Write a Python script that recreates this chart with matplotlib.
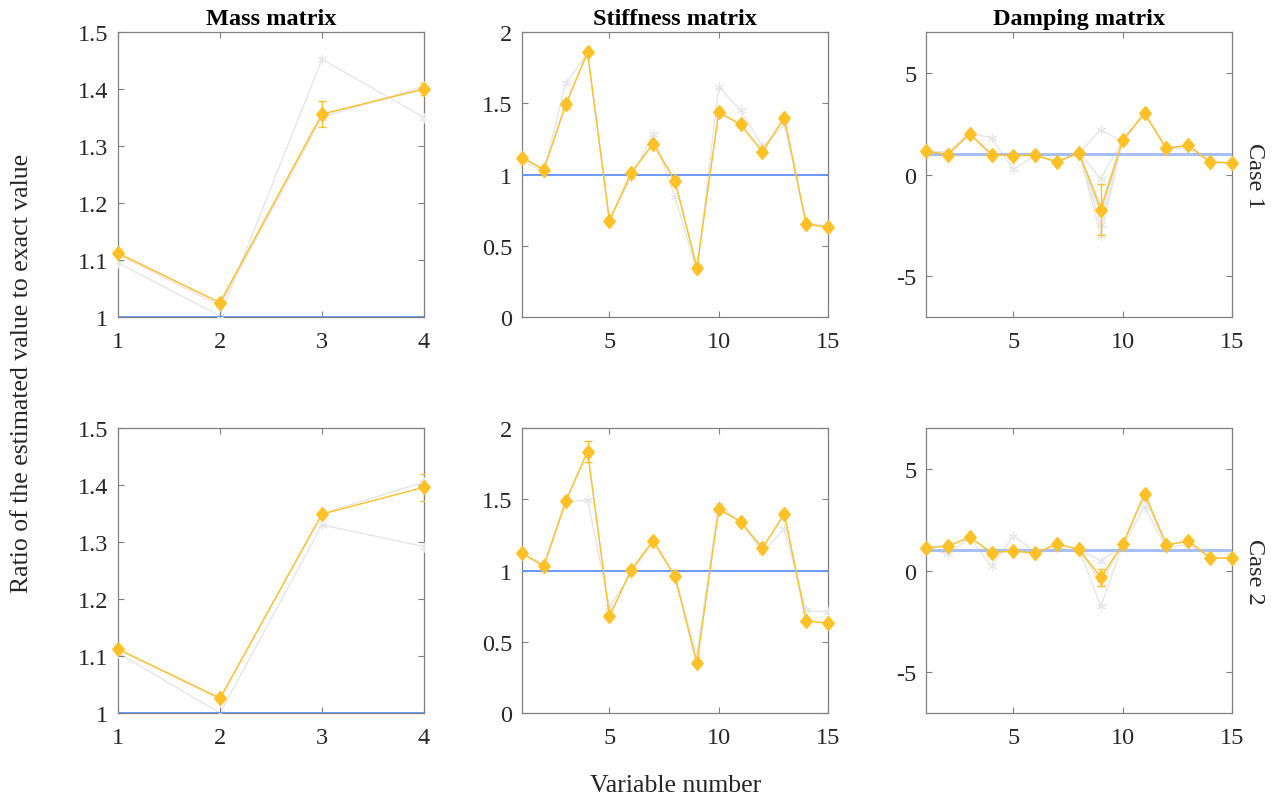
import matplotlib
matplotlib.use("Agg")
import matplotlib.pyplot as plt
import numpy as np

plt.rcParams['font.family'] = ['Liberation Serif', 'DejaVu Serif']
plt.rcParams['mathtext.fontset'] = 'stix'

# ---------------- data ----------------
mass_x = [1, 2, 3, 4]
var_x = list(range(1, 16))

mass1_mean = [1.112, 1.025, 1.356, 1.400]
mass1_err = [0.004, 0.004, 0.023, 0.011]
mass1_trials = [
    [1.095, 1.002, 1.452, 1.350],
    [1.110, 1.020, 1.350, 1.405],
    [1.112, 1.025, 1.355, 1.400],
]
mass2_mean = [1.112, 1.026, 1.349, 1.396]
mass2_err = [0.004, 0.004, 0.004, 0.024]
mass2_trials = [
    [1.105, 1.000, 1.330, 1.292],
    [1.112, 1.024, 1.350, 1.405],
]

stiff1_mean = [1.118, 1.035, 1.493, 1.857, 0.676, 1.012, 1.216, 0.953, 0.343, 1.439, 1.352, 1.160, 1.399, 0.653, 0.629]
stiff1_err = [0.01, 0.01, 0.03, 0.01, 0.01, 0.01, 0.015, 0.03, 0.01, 0.03, 0.02, 0.01, 0.01, 0.01, 0.01]
stiff1_trials = [
    [1.10, 1.02, 1.639, 1.85, 0.68, 0.98, 1.282, 0.84, 0.32, 1.615, 1.451, 1.20, 1.35, 0.66, 0.64],
    [1.12, 1.04, 1.48, 1.86, 0.675, 1.02, 1.21, 0.97, 0.35, 1.43, 1.35, 1.16, 1.40, 0.65, 0.63],
]
stiff2_mean = [1.121, 1.034, 1.485, 1.834, 0.679, 1.006, 1.209, 0.959, 0.348, 1.432, 1.343, 1.156, 1.396, 0.648, 0.630]
stiff2_err = [0.01, 0.01, 0.01, 0.075, 0.01, 0.01, 0.01, 0.01, 0.01, 0.01, 0.01, 0.01, 0.02, 0.01, 0.01]
stiff2_trials = [
    [1.12, 1.02, 1.48, 1.495, 0.746, 0.98, 1.20, 0.95, 0.41, 1.46, 1.34, 1.13, 1.29, 0.72, 0.707],
    [1.12, 1.03, 1.49, 1.84, 0.68, 1.00, 1.21, 0.96, 0.35, 1.43, 1.34, 1.16, 1.40, 0.65, 0.63],
]

damp1_mean = [1.15, 0.98, 2.0, 0.98, 0.93, 0.95, 0.62, 1.07, -1.72, 1.69, 3.0, 1.28, 1.44, 0.61, 0.57]
damp1_err = [0.05, 0.05, 0.05, 0.15, 0.1, 0.05, 0.05, 0.05, 1.25, 0.05, 0.05, 0.05, 0.05, 0.05, 0.05]
damp1_trials = [
    [1.15, 1.10, 2.05, 1.80, 0.25, 0.95, 0.65, 1.05, 2.2, 1.60, 3.0, 1.25, 1.30, 0.60, 0.57],
    [1.15, 0.98, 2.00, 0.95, 0.95, 0.95, 0.60, 1.07, -0.2, 1.69, 3.0, 1.28, 1.44, 0.61, 0.57],
    [1.15, 0.98, 2.00, 0.98, 0.93, 0.95, 0.62, 1.07, -3.0, 1.69, 3.0, 1.28, 1.44, 0.61, 0.57],
    [1.15, 0.98, 2.00, 0.98, 0.93, 0.95, 0.62, 1.07, -2.5, 1.69, 3.0, 1.28, 1.44, 0.61, 0.57],
    [1.15, 0.98, 2.00, 0.98, 0.93, 0.95, 0.62, 1.07, -1.5, 1.69, 3.0, 1.28, 1.44, 0.61, 0.57],
    [1.15, 0.98, 2.00, 0.98, 0.93, 0.95, 0.62, 1.07, -2.0, 1.69, 3.0, 1.28, 1.44, 0.61, 0.57],
]
damp2_mean = [1.12, 1.20, 1.63, 0.88, 0.96, 0.85, 1.30, 1.04, -0.34, 1.28, 3.78, 1.25, 1.45, 0.63, 0.60]
damp2_err = [0.05, 0.05, 0.05, 0.15, 0.05, 0.05, 0.05, 0.05, 0.40, 0.05, 0.10, 0.05, 0.05, 0.05, 0.05]
damp2_trials = [
    [1.12, 0.80, 1.60, 0.20, 1.71, 0.90, 1.10, 1.00, 0.49, 1.20, 3.13, 1.10, 1.30, 0.63, 0.60],
    [1.12, 1.20, 1.63, 0.88, 0.96, 0.85, 1.30, 1.04, -1.76, 1.28, 3.78, 1.25, 1.45, 0.63, 0.60],
    [1.12, 1.20, 1.63, 0.88, 0.96, 0.85, 1.30, 1.04, -0.60, 1.28, 3.60, 1.25, 1.45, 0.63, 0.60],
]

titles = ['Mass matrix', 'Stiffness matrix', 'Damping matrix']
case_labels = ['Case 1', 'Case 2']

panels = [
    [(mass_x, mass1_mean, mass1_err, mass1_trials),
     (var_x, stiff1_mean, stiff1_err, stiff1_trials),
     (var_x, damp1_mean, damp1_err, damp1_trials)],
    [(mass_x, mass2_mean, mass2_err, mass2_trials),
     (var_x, stiff2_mean, stiff2_err, stiff2_trials),
     (var_x, damp2_mean, damp2_err, damp2_trials)],
]

ylims = [(1, 1.5), (0, 2), (-7, 7)]
yticks = [[1, 1.1, 1.2, 1.3, 1.4, 1.5], [0, 0.5, 1, 1.5, 2], [-5, 0, 5]]
ytlabels = [['1', '1.1', '1.2', '1.3', '1.4', '1.5'], ['0', '0.5', '1', '1.5', '2'], ['-5', '0', '5']]
xlims = [(1, 4), (1, 15), (1, 15)]
xticks = [[1, 2, 3, 4], [5, 10, 15], [5, 10, 15]]

ORANGE = '#FFC125'
GRAY = '#E6E6E6'
BLUE = '#5F92FA'
LIGHTBLUE = '#A9BFFA'
SPINE = '#808080'
TXT = '#262626'

DIAMOND = [(0, 1), (0.83, 0), (0, -1), (-0.83, 0), (0, 1)]

fig = plt.figure(figsize=(12.79, 8.03), dpi=100)

lefts = [118, 522, 926]
width = 306
tops = [33, 429]
height = 285
W, H = 1279, 803

for r in range(2):
    for c in range(3):
        ax = fig.add_axes([lefts[c] / W, 1 - (tops[r] + height) / H, width / W, height / H])
        x, mean, err, trials = panels[r][c]
        for t in trials:
            ax.plot(x, t, color=GRAY, lw=1.0, marker=(6, 2, 0), ms=7, mew=0.8, zorder=1)
        if c == 2:
            ax.axhline(1, color=LIGHTBLUE, lw=2.2, zorder=2)
        else:
            ax.axhline(1, color=BLUE, lw=1.3, zorder=2)
        eb = ax.errorbar(x, mean, yerr=err, color=ORANGE, lw=1.0, marker=DIAMOND, ms=10,
                         mfc=ORANGE, mec=ORANGE, capsize=3, elinewidth=1.0, capthick=1.0, zorder=3)
        eb[0].set_clip_on(False)
        ax.set_xlim(*xlims[c])
        ax.set_ylim(*ylims[c])
        ax.set_xticks(xticks[c])
        ax.set_yticks(yticks[c])
        ax.set_yticklabels(ytlabels[c])
        ax.tick_params(direction='in', top=True, right=True, length=4, width=0.8,
                       colors=SPINE, labelcolor=TXT, labelsize=17.5)
        ax.tick_params(axis='x', pad=10)
        ax.tick_params(axis='y', pad=7)
        for s in ax.spines.values():
            s.set_color(SPINE)
            s.set_linewidth(0.9)
            s.set_zorder(0.5)
        if r == 0:
            ax.set_title(titles[c], fontsize=17.5, fontweight='bold', color='black', pad=6)
        if c == 2:
            ax.text(1.075, 0.5, case_labels[r], transform=ax.transAxes, rotation=270,
                    ha='center', va='center', fontsize=17.5, color=TXT)

fig.text(0.017, 0.535, 'Ratio of the estimated value to exact value', rotation=90,
         ha='center', va='center', fontsize=18.5, color=TXT)
fig.text(676 / W, 1 - 786 / H, 'Variable number', ha='center', va='center', fontsize=18.5, color=TXT)

fig.savefig('out.png', dpi=100)
